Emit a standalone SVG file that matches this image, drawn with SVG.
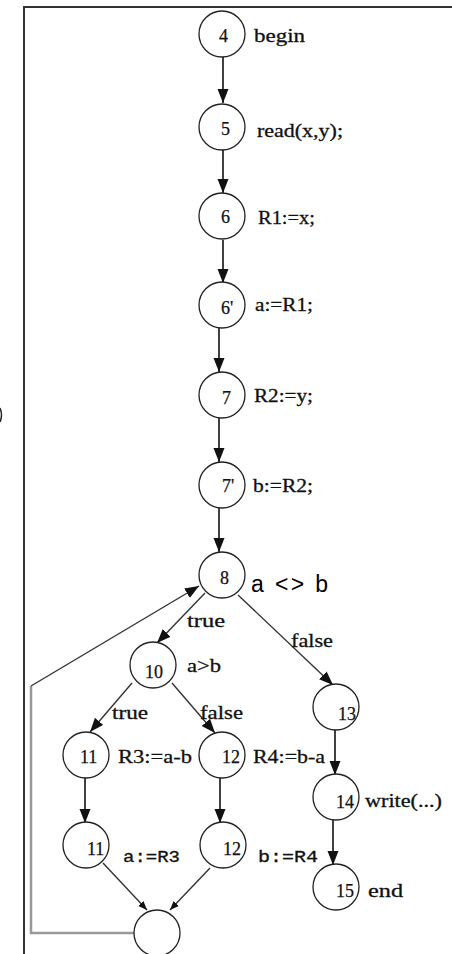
<svg xmlns="http://www.w3.org/2000/svg" width="452" height="954" viewBox="0 0 452 954">
  <style>
    .node { fill: #fff; stroke: #222; stroke-width: 1.3; }
    .num { font-family: "Liberation Serif", "Times New Roman", serif; font-size: 18px; fill: #111; stroke: #111; stroke-width: 0.25; }
    .lbl { font-family: "Liberation Serif", "Times New Roman", serif; font-size: 19px; fill: #111; stroke: #111; stroke-width: 0.3; }
    .mono { font-family: "Liberation Mono", "Courier New", monospace; font-size: 16px; fill: #111; stroke: #111; stroke-width: 0.3; }
    .cond { font-family: "Liberation Sans", Arial, sans-serif; font-size: 23px; fill: #000; }
    .edge { stroke: #111; stroke-width: 1.6; fill: none; }
    .diag { stroke: #333; stroke-width: 1.4; fill: none; }
    .loop { stroke: #999; stroke-width: 2.5; fill: none; }
    .frame { stroke: #333; stroke-width: 2; fill: none; }
  </style>
  <defs>
    <marker id="arrow" viewBox="0 0 14 12" refX="14" refY="6" markerWidth="14" markerHeight="12" markerUnits="userSpaceOnUse" orient="auto">
      <path d="M0,0.5 L14,6 L0,11.5 z" fill="#111"/>
    </marker>
    <marker id="arrowSmall" viewBox="0 0 10 10" refX="10" refY="5" markerWidth="9" markerHeight="9" markerUnits="userSpaceOnUse" orient="auto">
      <path d="M0,1 L10,5 L0,9 z" fill="#111"/>
    </marker>
  </defs>

  <!-- page frame -->
  <path class="frame" d="M24,954 L24,7 L452,7"/>
  <path d="M0,408 Q3,415 0,422" stroke="#222" stroke-width="1.5" fill="none"/>

  <!-- connectors -->
  <g id="edges">
    <path class="edge" d="M223,57 L223,103" marker-end="url(#arrow)"/>
    <path class="edge" d="M223,150 L223,193" marker-end="url(#arrow)"/>
    <path class="edge" d="M223,240 L223,283" marker-end="url(#arrow)"/>
    <path class="edge" d="M219,328 L219,372" marker-end="url(#arrow)"/>
    <path class="edge" d="M219,418 L219,462" marker-end="url(#arrow)"/>
    <path class="edge" d="M219,508 L219,552" marker-end="url(#arrow)"/>
    <path class="diag" d="M205,593 L157,643" marker-end="url(#arrow)"/>
    <path class="diag" d="M238,595 L333,685" marker-end="url(#arrow)"/>
    <path class="diag" d="M132,683 L90,732" marker-end="url(#arrow)"/>
    <path class="diag" d="M172,683 L215,733" marker-end="url(#arrow)"/>
    <path class="edge" d="M335,730 L335,775" marker-end="url(#arrow)"/>
    <path class="edge" d="M333,820 L333,865" marker-end="url(#arrow)"/>
    <path class="edge" d="M85,778 L85,823" marker-end="url(#arrow)"/>
    <path class="edge" d="M220,778 L220,823" marker-end="url(#arrow)"/>
    <path class="diag" d="M103,863 L147,910" marker-end="url(#arrowSmall)"/>
    <path class="diag" d="M210,868 L170,910" marker-end="url(#arrowSmall)"/>
    <!-- back edge of the while loop -->
    <path class="loop" d="M134,933 L31,933 L31,686"/>
    <path class="diag" d="M31,686 L199,586" marker-end="url(#arrow)"/>
    <text class="lbl" x="187" y="627" textLength="38" lengthAdjust="spacingAndGlyphs">true</text>
    <text class="lbl" x="291" y="647" textLength="42" lengthAdjust="spacingAndGlyphs">false</text>
    <text class="lbl" x="112" y="719" textLength="36" lengthAdjust="spacingAndGlyphs">true</text>
    <text class="lbl" x="200" y="719" textLength="43" lengthAdjust="spacingAndGlyphs">false</text>
  </g>

  <g id="n4">
    <circle class="node" cx="222" cy="34" r="23"/>
    <text class="num" x="219" y="42">4</text>
    <text class="lbl" x="254" y="42" textLength="51" lengthAdjust="spacingAndGlyphs">begin</text>
  </g>
  <g id="n5">
    <circle class="node" cx="222" cy="127" r="23"/>
    <text class="num" x="221" y="135">5</text>
    <text class="lbl" x="257" y="137" textLength="86" lengthAdjust="spacingAndGlyphs">read(x,y);</text>
  </g>
  <g id="n6">
    <circle class="node" cx="222" cy="216" r="23"/>
    <text class="num" x="221" y="223">6</text>
    <text class="lbl" x="258" y="224" textLength="57" lengthAdjust="spacingAndGlyphs">R1:=x;</text>
  </g>
  <g id="n6p">
    <circle class="node" cx="222" cy="305" r="23"/>
    <text class="num" x="221" y="314">6'</text>
    <text class="lbl" x="255" y="311" textLength="58" lengthAdjust="spacingAndGlyphs">a:=R1;</text>
  </g>
  <g id="n7">
    <circle class="node" cx="222" cy="395" r="23"/>
    <text class="num" x="222" y="404">7</text>
    <text class="lbl" x="254" y="402" textLength="59" lengthAdjust="spacingAndGlyphs">R2:=y;</text>
  </g>
  <g id="n7p">
    <circle class="node" cx="222" cy="485" r="23"/>
    <text class="num" x="222" y="492">7'</text>
    <text class="lbl" x="253" y="492" textLength="60" lengthAdjust="spacingAndGlyphs">b:=R2;</text>
  </g>
  <g id="n8">
    <circle class="node" cx="222" cy="575" r="23"/>
    <text class="num" x="220" y="584">8</text>
    <text class="cond" x="251" y="592" textLength="77" lengthAdjust="spacing">a &lt;&gt; b</text>
  </g>
  <g id="n10">
    <circle class="node" cx="153" cy="665" r="23"/>
    <text class="num" x="145" y="678">10</text>
    <text class="lbl" x="187" y="672" textLength="34" lengthAdjust="spacingAndGlyphs">a&gt;b</text>
  </g>
  <g id="n13">
    <circle class="node" cx="336" cy="707" r="23"/>
    <text class="num" x="338" y="720">13</text>
  </g>
  <g id="n11">
    <circle class="node" cx="86" cy="755" r="23"/>
    <text class="num" x="80" y="763">11</text>
    <text class="lbl" x="118" y="763" textLength="74" lengthAdjust="spacingAndGlyphs">R3:=a-b</text>
  </g>
  <g id="n12">
    <circle class="node" cx="222" cy="755" r="23"/>
    <text class="num" x="222" y="763">12</text>
    <text class="lbl" x="253" y="763" textLength="72" lengthAdjust="spacingAndGlyphs">R4:=b-a</text>
  </g>
  <g id="n14">
    <circle class="node" cx="336" cy="797" r="23"/>
    <text class="num" x="336" y="808">14</text>
    <text class="lbl" x="365" y="807" textLength="77" lengthAdjust="spacingAndGlyphs">write(...)</text>
  </g>
  <g id="n11p">
    <circle class="node" cx="86" cy="845" r="23"/>
    <text class="num" x="87" y="855">11</text>
    <text class="mono" x="123" y="862" textLength="57" lengthAdjust="spacingAndGlyphs">a:=R3</text>
  </g>
  <g id="n12p">
    <circle class="node" cx="223" cy="845" r="23"/>
    <text class="num" x="223" y="855">12</text>
    <text class="mono" x="258" y="862" textLength="60" lengthAdjust="spacingAndGlyphs">b:=R4</text>
  </g>
  <g id="n15">
    <circle class="node" cx="336" cy="887" r="23"/>
    <text class="num" x="336" y="897">15</text>
    <text class="lbl" x="368" y="897" textLength="35" lengthAdjust="spacingAndGlyphs">end</text>
  </g>
  <g id="nJoin">
    <circle class="node" cx="157" cy="933" r="23"/>
  </g>
</svg>
